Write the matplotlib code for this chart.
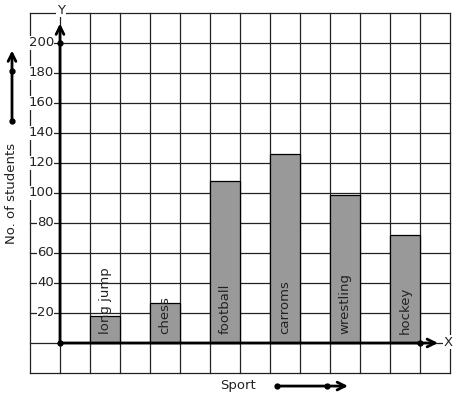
import numpy as np
import matplotlib.pyplot as plt

sports = ["long jump", "chess", "football", "carroms", "wrestling", "hockey"]
students = [18, 27, 108, 126, 99, 72]
bar_left = [1, 3, 5, 7, 9, 11]
y_ticks = [20, 40, 60, 80, 100, 120, 140, 160, 180, 200]

fig = plt.figure(figsize=(4.57, 3.99), dpi=100)
ax = fig.add_axes([0, 0, 1, 1])
ax.set_xlim(-2, 457 / 30 - 2)
ax.set_ylim(-(399 - 343) / 1.5, 343 / 1.5)
ax.axis("off")

# graph paper grid
for u in range(-1, 14):
    ax.plot([u, u], [-20, 220], color="#222222", lw=0.9, zorder=1)
for v in range(-20, 221, 20):
    ax.plot([-1, 13], [v, v], color="#222222", lw=0.9, zorder=1)

# bars
ax.bar(bar_left, students, width=1, align="edge", color="#999999",
       edgecolor="black", linewidth=0.9, zorder=2)
for x, name in zip(bar_left, sports):
    ax.text(x + 0.5, 6, name, rotation=90, ha="center", va="bottom",
            fontsize=9.5, color="#222222", zorder=3)

# axes with arrows
ax.annotate("", xy=(0, 213), xytext=(0, 0),
            arrowprops=dict(arrowstyle="->", lw=2, color="black",
                            mutation_scale=14, shrinkA=0, shrinkB=0), zorder=4)
ax.annotate("", xy=(12.6, 0), xytext=(0, 0),
            arrowprops=dict(arrowstyle="->", lw=2, color="black",
                            mutation_scale=14, shrinkA=0, shrinkB=0), zorder=4)
ax.plot([0, 0, 12], [0, 200, 0], "o", color="black", ms=3.5, zorder=5)

for t in y_ticks:
    ax.text(-0.2, t, str(t), ha="right", va="center", fontsize=9.5,
            color="#222222", zorder=3,
            bbox=dict(facecolor="white", edgecolor="none", pad=0.3))

ax.text(0.03, 222, "Y", ha="center", va="center", fontsize=9.5, color="#222222",
        bbox=dict(facecolor="white", edgecolor="none", pad=0.5), zorder=3)
ax.text(12.95, 0.5, "X", ha="center", va="center", fontsize=9.5, color="#222222",
        bbox=dict(facecolor="white", edgecolor="none", pad=0.5), zorder=3)

# side labels
ax.text(-1.6, 100, "No. of students", rotation=90, ha="center", va="center",
        fontsize=9.5, color="#222222")
ax.annotate("", xy=(-1.6, 195), xytext=(-1.6, 148),
            arrowprops=dict(arrowstyle="->", lw=2, color="black",
                            mutation_scale=14, shrinkA=0, shrinkB=0))
ax.plot([-1.6, -1.6], [148, 181.3], "o", color="black", ms=3.5)

ax.text(5.93, -28, "Sport", ha="center", va="center", fontsize=9.5, color="#222222")
ax.annotate("", xy=(9.6, -28.7), xytext=(7.23, -28.7),
            arrowprops=dict(arrowstyle="->", lw=2, color="black",
                            mutation_scale=14, shrinkA=0, shrinkB=0))
ax.plot([7.23, 8.9], [-28.7, -28.7], "o", color="black", ms=3.5)

fig.savefig("out.png", dpi=100)
